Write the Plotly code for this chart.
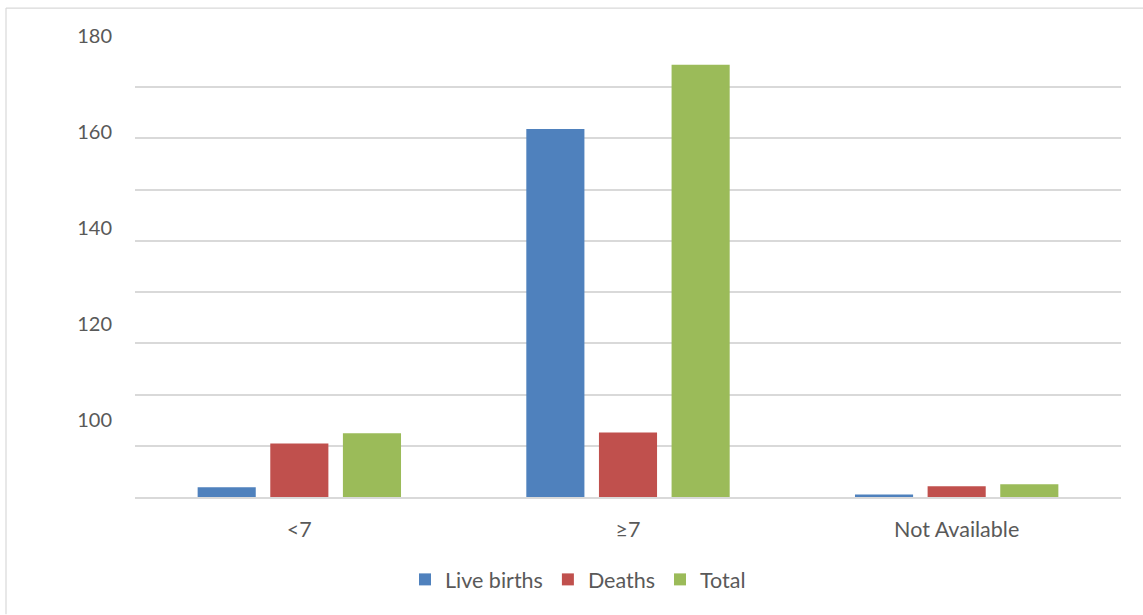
import plotly.graph_objects as go

# Categories and series
categories = ["<7", "≥7", "Not Available"]
live_births = [3.8, 143.7, 1.0]
deaths = [20.9, 25.2, 4.2]
total = [24.9, 168.8, 5.0]

# Value-axis labels as printed on the chart
label_positions = [30, 67.5, 105, 142.5, 180]
label_texts = ["100", "120", "140", "160", "180"]

series = [
    ("Live births", live_births, "#4F81BD"),
    ("Deaths", deaths, "#C0504D"),
    ("Total", total, "#9BBB59"),
]

FONT = "Lato"
TEXT = "#595959"
GRID = "#D9D9D9"

fig = go.Figure()
for name, vals, color in series:
    fig.add_trace(go.Bar(x=categories, y=vals, name=name,
                         marker=dict(color=color, line=dict(width=0))))

# invisible trace carrying the label axis
fig.add_trace(go.Scatter(x=categories, y=[0, 0, 0], yaxis="y2",
                         mode="markers", marker=dict(opacity=0),
                         showlegend=False, hoverinfo="skip"))

W, H = 1143, 615
L, R, T, B = 135, 22, 36, 117.5
pw, ph = W - L - R, H - T - B

def px_x(x):
    return (x - L) / pw

def px_y(y):
    return (H - B - y) / ph

fig.update_layout(
    width=W, height=H,
    margin=dict(l=L, r=R, t=T, b=B, pad=0),
    paper_bgcolor="white", plot_bgcolor="white",
    barmode="group", bargap=0.337, bargroupgap=0.2,
    font=dict(family=FONT, size=21, color=TEXT),
    xaxis=dict(showgrid=False, showline=True, linecolor=GRID, linewidth=1.5,
               ticks="", ticklabelstandoff=12,
               tickfont=dict(family=FONT, size=21.5, color=TEXT)),
    yaxis=dict(range=[0, 180], dtick=20, tick0=0, showgrid=True,
               gridcolor=GRID, gridwidth=1.5, zeroline=False,
               showticklabels=False, ticks=""),
    yaxis2=dict(range=[0, 180], overlaying="y", side="left",
                tickmode="array", tickvals=label_positions, ticktext=label_texts,
                showgrid=False, zeroline=False, showline=False, ticks="",
                ticklabelstandoff=22,
                tickfont=dict(family=FONT, size=20, color=TEXT)),
    legend=dict(orientation="h", x=px_x(578), xanchor="center",
                y=px_y(580), yanchor="middle",
                font=dict(family=FONT, size=21.5, color=TEXT),
                itemwidth=30, traceorder="normal"),
    showlegend=True,
    shapes=[
        dict(type="line", xref="paper", yref="paper",
             x0=px_x(6), x1=px_x(W), y0=px_y(8), y1=px_y(8),
             line=dict(color=GRID, width=1.2)),
        dict(type="line", xref="paper", yref="paper",
             x0=px_x(6), x1=px_x(6), y0=px_y(8), y1=px_y(H),
             line=dict(color=GRID, width=1.2)),
    ],
)

fig.write_html("out.html")
